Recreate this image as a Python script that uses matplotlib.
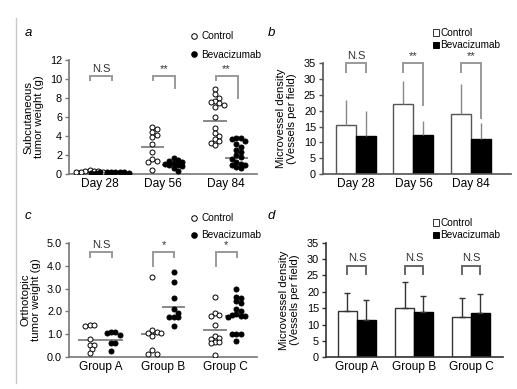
import numpy as np
import matplotlib
matplotlib.use('Agg')
import matplotlib.pyplot as plt
from matplotlib.lines import Line2D
from matplotlib.patches import Patch

plt.rcParams['font.family'] = ['Liberation Sans', 'DejaVu Sans']

W, H = 517, 389

# ---- panel a: subcutaneous tumor weight (g)
days = ['Day 28', 'Day 56', 'Day 84']
a_ctrl = [[0.4, 0.35, 0.3, 0.3, 0.25, 0.2, 0.2, 0.15],
          [5.0, 4.7, 4.4, 4.1, 3.9, 3.2, 2.3, 1.6, 1.4, 1.3, 0.4],
          [9.0, 8.4, 8.0, 7.7, 7.6, 7.5, 7.3, 7.1, 6.0, 4.8, 4.3, 4.0,
           3.7, 3.5, 3.3, 3.1]]
a_bev = [[0.25, 0.25, 0.2, 0.2, 0.2, 0.2, 0.15, 0.15, 0.1],
         [1.7, 1.5, 1.4, 1.3, 1.2, 1.1, 1.0, 0.9, 0.8, 0.6, 0.3],
         [3.8, 3.8, 3.7, 3.5, 3.2, 2.8, 2.5, 2.3, 2.0, 1.8, 1.6, 1.3,
          1.1, 1.0, 0.9, 0.7, 0.6]]
a_ctrl_mean = [0.28, 2.85, 5.6]
a_bev_mean = [0.2, 0.95, 1.65]
a_sig = ['N.S', '**', '**']
a_br_top = [10.3, 10.3, 10.3]
a_br_left = [9.85, 9.85, 9.85]
a_br_right = [9.85, 9.1, 8.05]

# ---- panel b: microvessel density, subcutaneous
b_ctrl = [15.5, 22.2, 18.9]
b_ctrl_sd = [7.9, 7.2, 9.6]
b_bev = [11.9, 12.4, 11.0]
b_bev_sd = [8.1, 4.4, 5.1]
b_sig = ['N.S', '**', '**']
b_br_left = [32.4, 32.4, 32.4]
b_br_right = [32.4, 21.9, 17.7]

# ---- panel c: orthotopic tumor weight (g)
groups = ['Group A', 'Group B', 'Group C']
c_ctrl = [[1.4, 1.4, 1.35, 0.8, 0.52, 0.52, 0.35, 0.17],
          [3.5, 1.2, 1.1, 1.05, 1.05, 0.9, 0.3, 0.15, 0.15],
          [2.65, 1.95, 1.85, 1.8, 1.4, 0.9, 0.85, 0.8, 0.65, 0.65, 0.6,
           0.08]]
c_bev = [[1.08, 1.08, 1.07, 0.95, 0.62, 0.6, 0.25],
         [3.75, 3.3, 2.6, 2.1, 1.95, 1.75, 1.75, 1.75, 1.35],
         [3.0, 2.65, 2.6, 2.45, 2.35, 2.1, 2.0, 1.9, 1.85, 1.8, 1.8, 1.75,
          1.0, 1.0, 1.0, 0.72]]
c_ctrl_mean = [0.75, 1.0, 1.2]
c_bev_mean = [0.74, 2.2, 1.82]
c_sig = ['N.S', '*', '*']
c_br_top = [4.6, 4.6, 4.6]
c_br_left = [4.4, 4.0, 4.0]
c_br_right = [4.4, 4.4, 4.4]

# ---- panel d: microvessel density, orthotopic
d_ctrl = [14.2, 15.2, 12.2]
d_ctrl_sd = [5.5, 7.7, 6.0]
d_bev = [11.4, 13.7, 13.6]
d_bev_sd = [6.1, 5.0, 5.7]
d_sig = ['N.S', 'N.S', 'N.S']
d_br_top = [27.9, 27.9, 27.9]
d_br_leg = [25.4, 25.4, 25.4]

TICK_Y = 7.8
TICK_X = 8.6
LAB = 8.2
LEG = 7.2


def box(l, r, t, b):
    return [l / W, 1 - b / H, (r - l) / W, (b - t) / H]


fig = plt.figure(figsize=(W / 100, H / 100), dpi=100)
fig.add_artist(Line2D([16 / W, 16 / W], [1 - 383 / H, 1 - 18 / H],
                      color='#c8c8c8', lw=1))


def style(ax, col):
    for s in ['top', 'right']:
        ax.spines[s].set_visible(False)
    for s in ['left', 'bottom']:
        ax.spines[s].set_color(col)
        ax.spines[s].set_linewidth(1.2)
    ax.tick_params(axis='y', length=3, width=1, color=col,
                   labelsize=TICK_Y, pad=2)
    ax.tick_params(axis='x', length=0, labelsize=TICK_X, pad=3)


def swarm(ax, x0, vals, d):
    pts = ax.transData.transform(np.column_stack([np.full(len(vals), x0),
                                                  vals]))
    placed = []
    out = []
    step = d * 0.5
    cands = [0.0]
    for k in range(1, 30):
        cands += [k * step, -k * step]
    for px, py in pts:
        for c in cands:
            ok = all((px + c - qx) ** 2 + (py - qy) ** 2 >= d ** 2
                     for qx, qy in placed)
            if ok:
                break
        placed.append((px + c, py))
        out.append(ax.transData.inverted().transform((px + c, py))[0])
    return out


def scatter_panel(ax, ctrl, bev, cm, bm):
    off = 0.17
    for i in range(3):
        xs = swarm(ax, i - off, ctrl[i], 4.4)
        ax.scatter(xs, ctrl[i], s=13, facecolor='white', edgecolor='black',
                   linewidth=0.7, zorder=3)
        xs = swarm(ax, i + off, bev[i], 4.4)
        ax.scatter(xs, bev[i], s=13, facecolor='black', edgecolor='black',
                   linewidth=0.7, zorder=3)
        ax.plot([i - off - 0.17, i - off + 0.17], [cm[i], cm[i]],
                color='#888888', lw=1.4, zorder=2)
        ax.plot([i + off - 0.17, i + off + 0.17], [bm[i], bm[i]],
                color='#888888', lw=1.4, zorder=2)


def bracket(ax, x1, x2, top, yl, yr, txt, col, ty):
    ax.plot([x1, x1, x2, x2], [yl, top, top, yr], color=col, lw=1.4,
            clip_on=False, solid_joinstyle='miter')
    ax.text((x1 + x2) / 2, ty, txt, ha='center', va='bottom', fontsize=8,
            color='#333333', clip_on=False)


def circle_legend(ax, y, sp):
    ax.legend(handles=[Line2D([], [], ls='none', marker='o', ms=4,
                              mfc='white', mec='black', mew=0.7),
                       Line2D([], [], ls='none', marker='o', ms=4,
                              mfc='black', mec='black', mew=0.7)],
              labels=['Control', 'Bevacizumab'], loc='upper left',
              bbox_to_anchor=(190 / W, 1 - y / H),
              bbox_transform=fig.transFigure, frameon=False, fontsize=LEG,
              handlelength=0.8, handletextpad=0.35, labelspacing=sp,
              borderpad=0, borderaxespad=0)


def square_legend(ax, y):
    ax.legend(handles=[Patch(facecolor='white', edgecolor='#333333', lw=0.7),
                       Patch(facecolor='black', edgecolor='black', lw=0.7)],
              labels=['Control', 'Bevacizumab'], loc='upper left',
              bbox_to_anchor=(433 / W, 1 - y / H),
              bbox_transform=fig.transFigure, frameon=False, fontsize=LEG,
              handlelength=0.6, handleheight=0.6, handletextpad=0.15,
              labelspacing=0.25, borderpad=0, borderaxespad=0)


# ---- a
ax = fig.add_axes(box(69, 257, 60, 174))
ax.set_xlim(-0.5, 2.5)
ax.set_ylim(0, 12)
style(ax, '#777777')
ax.set_yticks(range(0, 13, 2))
ax.set_xticks(range(3))
ax.set_xticklabels(days)
scatter_panel(ax, a_ctrl, a_bev, a_ctrl_mean, a_bev_mean)
for i in range(3):
    bracket(ax, i - 0.16, i + 0.19, a_br_top[i], a_br_left[i],
            a_br_right[i], a_sig[i], '#999999', a_br_top[i] + 0.25)
ax.set_ylabel('Subcutaneous\ntumor weight (g)', fontsize=LAB, labelpad=4,
              linespacing=1.05)
fig.text(25 / W, 1 - 33 / H, 'a', fontsize=9.5, style='italic', va='center')
circle_legend(ax, 31, 0.85)

# ---- b
ax = fig.add_axes(box(323, 511, 63.3, 174))
ax.set_xlim(-0.574, 2.7)
ax.set_ylim(0, 35)
style(ax, '#555555')
ax.set_yticks(range(0, 36, 5))
ax.set_xticks(range(3))
ax.set_xticklabels(days)
x = np.arange(3)
w = 0.35
ax.bar(x - w / 2, b_ctrl, w, color='white', edgecolor='#555555', lw=1,
       yerr=[np.zeros(3), b_ctrl_sd], error_kw=dict(ecolor='#888888',
                                                    elinewidth=1, capsize=0),
       zorder=2)
ax.bar(x + w / 2, b_bev, w, color='black', edgecolor='black', lw=1,
       yerr=[np.zeros(3), b_bev_sd], error_kw=dict(ecolor='#888888',
                                                   elinewidth=1, capsize=0),
       zorder=2)
for i in range(3):
    bracket(ax, i - w / 2, i + w / 2, 35, b_br_left[i], b_br_right[i],
            b_sig[i], '#999999', 35.8)
ax.set_ylabel('Microvessel density\n(Vessels per field)', fontsize=LAB,
              labelpad=5, linespacing=1.05)
fig.text(268 / W, 1 - 33 / H, 'b', fontsize=9.5, style='italic', va='center')
square_legend(ax, 28)

# ---- c
ax = fig.add_axes(box(69, 257, 243, 357))
ax.set_xlim(-0.5, 2.5)
ax.set_ylim(0, 5)
style(ax, '#777777')
ax.set_yticks(np.arange(0, 5.1, 1.0))
ax.set_yticklabels(['%.1f' % v for v in np.arange(0, 5.1, 1.0)])
ax.set_xticks(range(3))
ax.set_xticklabels(groups)
scatter_panel(ax, c_ctrl, c_bev, c_ctrl_mean, c_bev_mean)
for i in range(3):
    bracket(ax, i - 0.16, i + 0.18, c_br_top[i], c_br_left[i],
            c_br_right[i], c_sig[i], '#999999', c_br_top[i] + 0.1)
ax.set_ylabel('Orthotopic\ntumor weight (g)', fontsize=LAB, labelpad=4,
              linespacing=1.05)
fig.text(25 / W, 1 - 216 / H, 'c', fontsize=9.5, style='italic', va='center')
circle_legend(ax, 213, 0.7)

# ---- d
ax = fig.add_axes(box(326, 503, 242.7, 357.3))
ax.set_xlim(-0.54, 2.56)
ax.set_ylim(0, 35)
style(ax, '#333333')
ax.set_yticks(range(0, 36, 5))
ax.set_xticks(range(3))
ax.set_xticklabels(groups)
w = 0.33
ax.bar(x - w / 2, d_ctrl, w, color='white', edgecolor='#333333', lw=1,
       yerr=[np.zeros(3), d_ctrl_sd], error_kw=dict(ecolor='#333333',
                                                    elinewidth=1, capsize=2,
                                                    capthick=1),
       zorder=2)
ax.bar(x + w / 2, d_bev, w, color='black', edgecolor='black', lw=1,
       yerr=[np.zeros(3), d_bev_sd], error_kw=dict(ecolor='#333333',
                                                   elinewidth=1, capsize=2,
                                                   capthick=1),
       zorder=2)
for i in range(3):
    bracket(ax, i - w / 2, i + w / 2, d_br_top[i], d_br_leg[i],
            d_br_leg[i], d_sig[i], '#666666', d_br_top[i] + 1.0)
ax.set_ylabel('Microvessel density\n(Vessels per field)', fontsize=LAB,
              labelpad=5, linespacing=1.05)
fig.text(268 / W, 1 - 216 / H, 'd', fontsize=9.5, style='italic', va='center')
square_legend(ax, 218)

fig.savefig('out.png', dpi=100)
